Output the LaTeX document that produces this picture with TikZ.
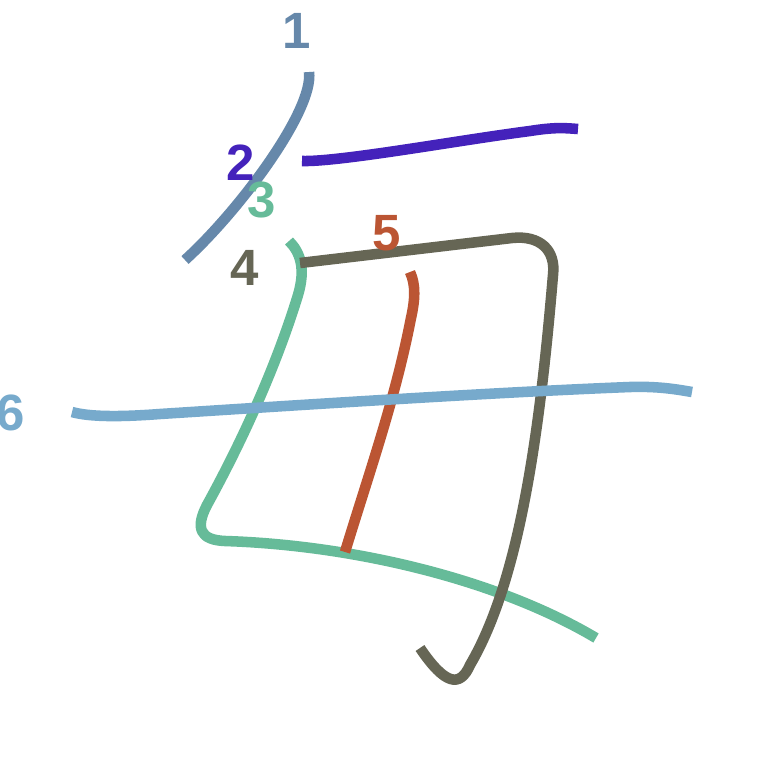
\documentclass[tikz,border=0pt]{standalone}
\usepackage{fontspec}
\setmainfont{Liberation Sans}
\definecolor{cA}{HTML}{6688AA}
\definecolor{cB}{HTML}{4422BB}
\definecolor{cC}{HTML}{66BB99}
\definecolor{cD}{HTML}{666655}
\definecolor{cE}{HTML}{BB5533}
\definecolor{cF}{HTML}{77AACC}
\begin{document}
\begin{tikzpicture}[x=0.01cm,y=-0.01cm,
  strk/.style={line width=3pt,line cap=butt,line join=round},
  num/.style={font=\fontsize{14.5pt}{16pt}\selectfont\bfseries,inner sep=0pt}]
\useasboundingbox[fill=white] (0,0) rectangle (763,763);
% stroke 1
\draw[strk,cA] (309,72) .. controls (314,110) and (240,210) .. (185,260);
% stroke 2
\draw[strk,cB] (302,161) .. controls (340,162) and (460,140) .. (530,131) .. controls (555,127) and (565,128) .. (578,129);
% stroke 3
\draw[strk,cC] (289,241) .. controls (300,252) and (306,268) .. (298,295) .. controls (275,370) and (240,445) .. (207,505) .. controls (195,528) and (200,540) .. (225,541) .. controls (350,545) and (495,578) .. (596,638);
% stroke 4
\draw[strk,cD] (300,263) -- (512,238) .. controls (540,235) and (556,250) .. (553,275) .. controls (540,430) and (520,580) .. (470,665) .. controls (460,688) and (445,685) .. (420,648);
% stroke 5
\draw[strk,cE] (410,272) .. controls (416,285) and (415,300) .. (411,318) .. controls (395,400) and (370,470) .. (345,552);
% stroke 6
\draw[strk,cF] (72,412) .. controls (90,417) and (120,417) .. (160,414) .. controls (300,405) and (500,392) .. (630,387) .. controls (660,386) and (680,390) .. (692,392);
% numbers
\node[num,cA] (n1) at (297,31) {1};
\node[num,cB] (n2) at (241,163) {2};
\node[num,cC] (n3) at (262,200) {3};
\node[num,cD] (n4) at (245,268) {4};
\node[num,cE] (n5) at (387,233) {5};
\node[num,cF] (n6) at (11,413) {6};
\end{tikzpicture}
\end{document}
